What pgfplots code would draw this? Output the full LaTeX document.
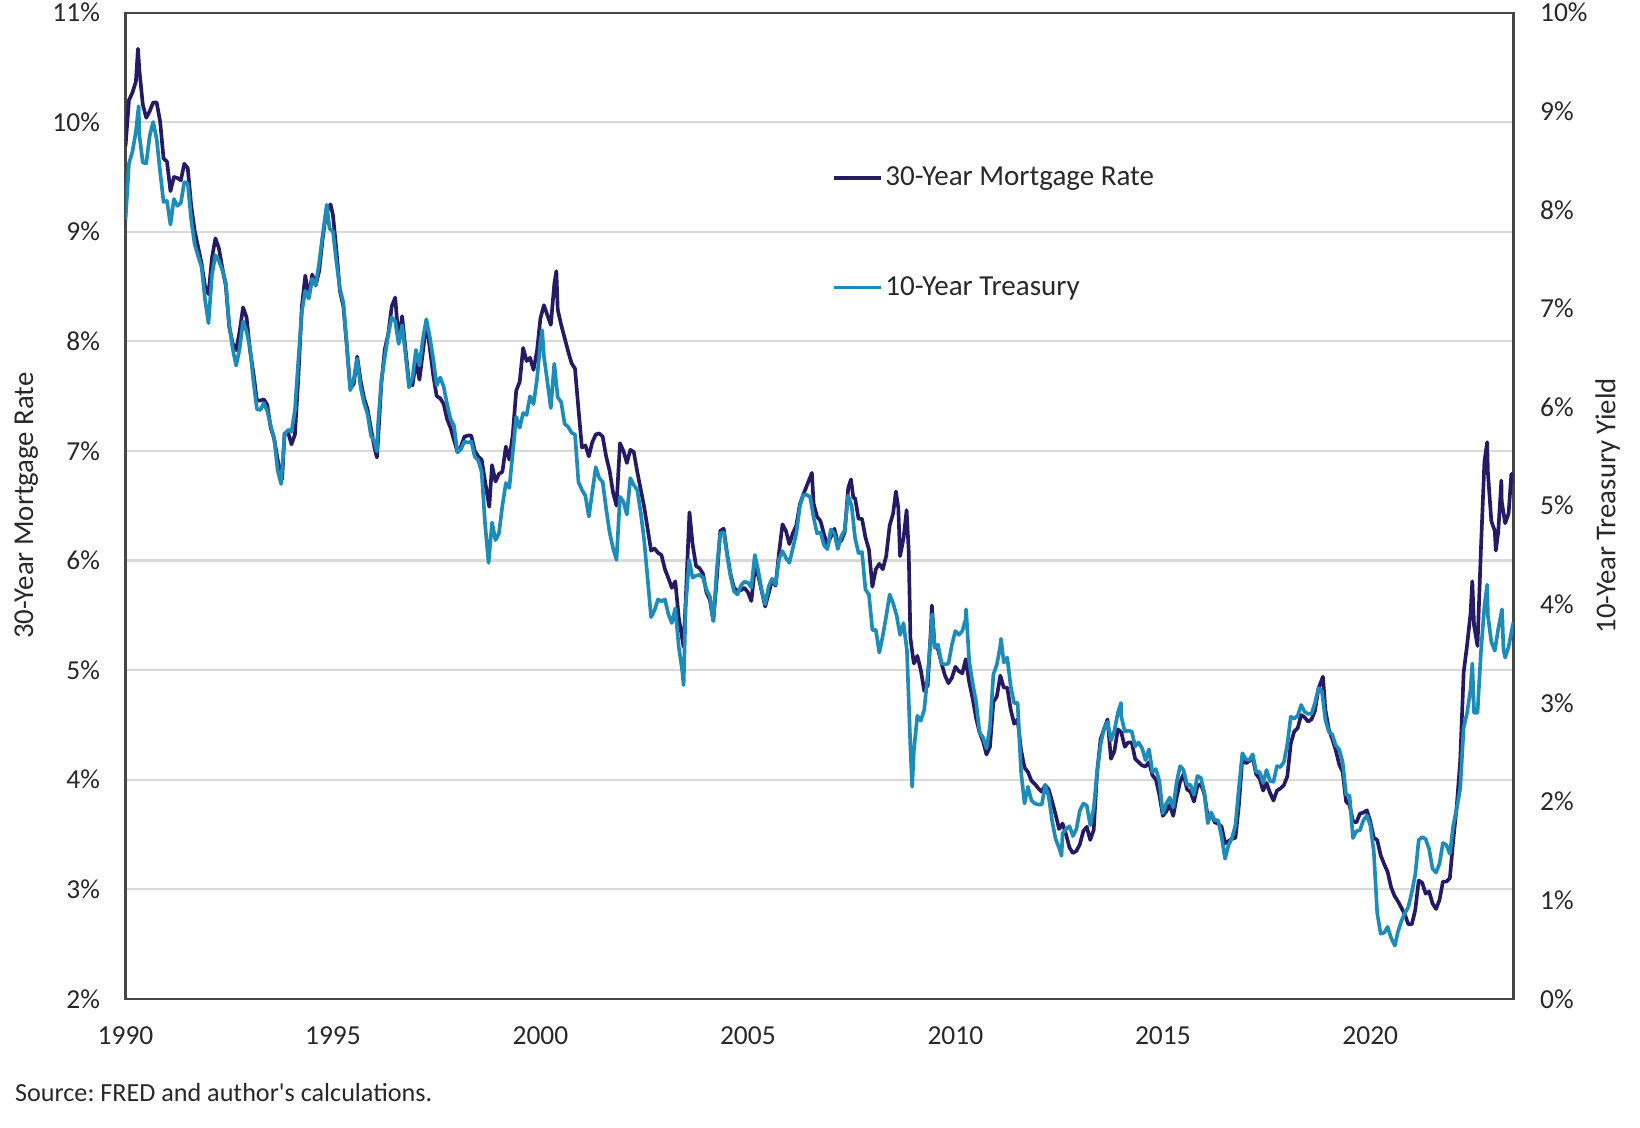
\documentclass[border=0pt]{standalone}
\usepackage{fontspec}
\setmainfont{Carlito}
\newfontfamily\srcfont{Carlito}[Ligatures=TeXOff]
\usepackage{pgfplots}
\pgfplotsset{compat=1.18}
\usepackage{pgfplotstable}
\definecolor{navy}{RGB}{38,26,100}
\definecolor{tealc}{RGB}{30,140,185}
\definecolor{gridc}{RGB}{217,217,217}
\definecolor{axc}{RGB}{70,70,70}
\definecolor{txt}{RGB}{40,40,40}

% 30-year mortgage rate (%), year / month / value
\pgfplotstableread[row sep=\\]{
yr mo v\\
1990 1 9.78\\1990 2 10.20\\1990 3 10.27\\1990 4 10.37\\1990 4.6 10.67\\1990 5 10.48\\1990 6 10.16\\1990 7 10.04\\1990 8 10.10\\1990 9 10.18\\1990 10 10.18\\1990 11 10.01\\1990 12 9.67\\
1991 1 9.64\\1991 2 9.37\\1991 3 9.50\\1991 4 9.49\\1991 5 9.47\\1991 6 9.62\\1991 7 9.58\\1991 8 9.24\\1991 9 9.01\\1991 10 8.86\\1991 11 8.71\\1991 12 8.50\\
1992 1 8.43\\1992 2 8.76\\1992 3 8.94\\1992 4 8.85\\1992 5 8.67\\1992 6 8.51\\1992 7 8.13\\1992 8 7.98\\1992 9 7.92\\1992 10 8.09\\1992 11 8.31\\1992 12 8.22\\
1993 1 7.92\\1993 2 7.71\\1993 3 7.46\\1993 4 7.46\\1993 5 7.47\\1993 6 7.42\\1993 7 7.21\\1993 8 7.11\\1993 9 6.92\\1993 10.3 6.74\\1993 11 7.16\\1993 12 7.17\\
1994 1 7.06\\1994 2 7.15\\1994 3 7.68\\1994 4 8.32\\1994 5 8.60\\1994 6 8.40\\1994 7 8.61\\1994 8 8.51\\1994 9 8.64\\1994 10 8.93\\1994 11 9.17\\1994 12.3 9.25\\
1995 1 9.15\\1995 2 8.83\\1995 3 8.46\\1995 4 8.32\\1995 5 7.96\\1995 6 7.57\\1995 7 7.61\\1995 8 7.86\\1995 9 7.64\\1995 10 7.48\\1995 11 7.38\\1995 12 7.20\\
1996 1 7.03\\1996 1.7 6.94\\1996 2 7.08\\1996 3 7.62\\1996 4 7.93\\1996 5 8.07\\1996 6 8.32\\1996 7 8.40\\1996 8 8.00\\1996 9 8.23\\1996 10 7.92\\1996 11 7.62\\1996 12 7.60\\
1997 1 7.82\\1997 2 7.65\\1997 3 7.90\\1997 4 8.18\\1997 5 7.94\\1997 6 7.69\\1997 7 7.50\\1997 8 7.48\\1997 9 7.43\\1997 10 7.29\\1997 11 7.21\\1997 12 7.10\\
1998 1 6.99\\1998 2 7.04\\1998 3 7.13\\1998 4 7.14\\1998 5 7.14\\1998 6 7.00\\1998 7 6.95\\1998 8 6.92\\1998 9 6.72\\1998 10.2 6.49\\1998 11 6.87\\1998 12 6.72\\
1999 1 6.79\\1999 2 6.81\\1999 3 7.04\\1999 4 6.92\\1999 5 7.15\\1999 6 7.55\\1999 7 7.63\\1999 8 7.94\\1999 9 7.82\\1999 10 7.85\\1999 11 7.74\\1999 12 7.91\\
2000 1 8.21\\2000 2 8.33\\2000 3 8.24\\2000 4 8.15\\2000 5 8.52\\2000 5.6 8.64\\2000 6 8.29\\2000 7 8.15\\2000 8 8.03\\2000 9 7.91\\2000 10 7.80\\2000 11 7.75\\2000 12 7.38\\
2001 1 7.03\\2001 2 7.05\\2001 3 6.95\\2001 4 7.08\\2001 5 7.15\\2001 6 7.16\\2001 7 7.13\\2001 8 6.95\\2001 9 6.82\\2001 10 6.62\\2001 11 6.50\\2001 12 7.07\\
2002 1 7.00\\2002 2 6.89\\2002 3 7.01\\2002 4 6.99\\2002 5 6.81\\2002 6 6.65\\2002 7 6.49\\2002 8 6.29\\2002 9 6.09\\2002 10 6.11\\2002 11 6.07\\2002 12 6.05\\
2003 1 5.92\\2003 2 5.84\\2003 3 5.75\\2003 4 5.81\\2003 5 5.48\\2003 6.4 5.21\\2003 7 5.63\\2003 8.1 6.44\\2003 9 6.15\\2003 10 5.95\\2003 11 5.93\\2003 12 5.88\\
2004 1 5.71\\2004 2 5.64\\2004 3 5.45\\2004 4 5.83\\2004 5 6.27\\2004 6 6.29\\2004 7 6.06\\2004 8 5.87\\2004 9 5.75\\2004 10 5.72\\2004 11 5.73\\2004 12 5.75\\
2005 1 5.71\\2005 2 5.63\\2005 3 5.93\\2005 4 5.86\\2005 5 5.72\\2005 6 5.58\\2005 7 5.70\\2005 8 5.82\\2005 9 5.77\\2005 10 6.07\\2005 11 6.33\\2005 12 6.27\\
2006 1 6.15\\2006 2 6.25\\2006 3 6.32\\2006 4 6.51\\2006 5 6.60\\2006 6 6.68\\2006 7 6.76\\2006 7.5 6.80\\2006 8 6.52\\2006 9 6.40\\2006 10 6.36\\2006 11 6.24\\2006 12 6.14\\
2007 1 6.22\\2007 2 6.29\\2007 3 6.16\\2007 4 6.18\\2007 5 6.26\\2007 6 6.66\\2007 6.8 6.74\\2007 7.5 6.57\\2007 8 6.57\\2007 9 6.38\\2007 10 6.38\\2007 11 6.21\\2007 12 6.10\\
2008 1 5.76\\2008 2 5.92\\2008 3 5.97\\2008 4 5.92\\2008 5 6.04\\2008 6 6.32\\2008 7 6.43\\2008 7.8 6.63\\2008 8.5 6.48\\2008 9 6.04\\2008 10 6.20\\2008 10.9 6.46\\2008 11.5 6.09\\2008 12 5.29\\
2009 1 5.06\\2009 2 5.13\\2009 3 5.00\\2009 4 4.81\\2009 5 4.86\\2009 6 5.42\\2009 6.2 5.59\\2009 7 5.22\\2009 8 5.19\\2009 9 5.06\\2009 10 4.95\\2009 11 4.88\\2009 12 4.93\\
2010 1 5.03\\2010 2 4.99\\2010 3 4.97\\2010 4 5.10\\2010 5 4.89\\2010 6 4.74\\2010 7 4.56\\2010 8 4.43\\2010 9 4.35\\2010 10 4.23\\2010 11 4.30\\2010 12 4.71\\
2011 1 4.76\\2011 2 4.95\\2011 3 4.84\\2011 4 4.84\\2011 5 4.64\\2011 6 4.51\\2011 7 4.55\\2011 8 4.27\\2011 9 4.11\\2011 10 4.07\\2011 11 3.99\\2011 12 3.96\\
2012 1 3.92\\2012 2 3.89\\2012 3 3.95\\2012 4 3.91\\2012 5 3.80\\2012 6 3.68\\2012 7 3.55\\2012 8 3.60\\2012 9 3.50\\2012 10 3.38\\2012 11 3.33\\2012 12 3.35\\
2013 1 3.41\\2013 2 3.53\\2013 3 3.57\\2013 4 3.45\\2013 5 3.54\\2013 6 4.07\\2013 7 4.37\\2013 8 4.46\\2013 9 4.55\\2013 10 4.19\\2013 11 4.26\\2013 12 4.46\\
2014 1 4.43\\2014 2 4.30\\2014 3 4.34\\2014 4 4.34\\2014 5 4.19\\2014 6 4.16\\2014 7 4.13\\2014 8 4.12\\2014 9 4.16\\2014 10 4.04\\2014 11 4.00\\2014 12 3.86\\
2015 1 3.67\\2015 2 3.71\\2015 3 3.77\\2015 4 3.67\\2015 5 3.84\\2015 6 3.98\\2015 7 4.05\\2015 8 3.91\\2015 9 3.89\\2015 10 3.80\\2015 11 3.94\\2015 12 3.96\\
2016 1 3.87\\2016 2 3.66\\2016 3 3.69\\2016 4 3.61\\2016 5 3.60\\2016 6 3.57\\2016 7 3.42\\2016 8 3.44\\2016 9 3.46\\2016 10 3.47\\2016 11 3.77\\2016 12 4.20\\
2017 1 4.15\\2017 2 4.17\\2017 3 4.20\\2017 4 4.05\\2017 5 4.01\\2017 6 3.90\\2017 7 3.97\\2017 8 3.88\\2017 9 3.81\\2017 10 3.90\\2017 11 3.92\\2017 12 3.95\\
2018 1 4.03\\2018 2 4.33\\2018 3 4.44\\2018 4 4.47\\2018 5 4.59\\2018 6 4.57\\2018 7 4.53\\2018 8 4.55\\2018 9 4.63\\2018 10 4.83\\2018 11.3 4.94\\2018 12 4.64\\
2019 1 4.46\\2019 2 4.37\\2019 3 4.27\\2019 4 4.14\\2019 5 4.07\\2019 6 3.80\\2019 7 3.77\\2019 8 3.62\\2019 9 3.61\\2019 10 3.69\\2019 11 3.70\\2019 12 3.72\\
2020 1 3.62\\2020 2 3.47\\2020 3 3.45\\2020 4 3.31\\2020 5 3.23\\2020 6 3.16\\2020 7 3.02\\2020 8 2.94\\2020 9 2.89\\2020 10 2.83\\2020 11 2.77\\2020 12 2.68\\
2021 1 2.68\\2021 2 2.81\\2021 3 3.08\\2021 4 3.06\\2021 5 2.96\\2021 6 2.98\\2021 7 2.87\\2021 8 2.82\\2021 9 2.90\\2021 10 3.07\\2021 11 3.07\\2021 12 3.10\\
2022 1 3.45\\2022 2 3.76\\2022 3 4.17\\2022 4 4.98\\2022 5 5.23\\2022 6 5.52\\2022 6.5 5.81\\2022 7 5.41\\2022 8 5.22\\2022 9 6.11\\2022 10 6.90\\2022 10.8 7.08\\2022 11 6.81\\2022 12 6.36\\
2023 1 6.27\\2023 1.3 6.09\\2023 2 6.26\\2023 2.9 6.73\\2023 3 6.54\\2023 4 6.34\\2023 5 6.43\\2023 5.8 6.79\\2023 6 6.71\\2023 6.4 6.78\\
}\mort

% 10-year Treasury yield (%), year / month / value
\pgfplotstableread[row sep=\\]{
yr mo v\\
1990 1 7.90\\1990 2 8.47\\1990 3 8.59\\1990 4 8.79\\1990 4.8 9.05\\1990 5 8.76\\1990 6 8.48\\1990 7 8.47\\1990 8 8.75\\1990 9 8.89\\1990 10 8.72\\1990 11 8.39\\1990 12 8.08\\
1991 1 8.09\\1991 2 7.85\\1991 3 8.11\\1991 4 8.04\\1991 5 8.07\\1991 6 8.28\\1991 7 8.27\\1991 8 7.90\\1991 9 7.65\\1991 10 7.53\\1991 11 7.42\\1991 12 7.09\\
1992 1 6.85\\1992 2 7.34\\1992 3 7.54\\1992 4 7.48\\1992 5 7.39\\1992 6 7.26\\1992 7 6.84\\1992 8 6.59\\1992 9 6.42\\1992 10 6.59\\1992 11 6.87\\1992 12 6.77\\
1993 1 6.60\\1993 2 6.26\\1993 3 5.98\\1993 4 5.97\\1993 5 6.04\\1993 6 5.96\\1993 7 5.81\\1993 8 5.68\\1993 9 5.36\\1993 10 5.22\\1993 11 5.72\\1993 12 5.77\\
1994 1 5.75\\1994 2 5.97\\1994 3 6.48\\1994 4 6.97\\1994 5 7.18\\1994 6 7.10\\1994 7 7.30\\1994 8 7.24\\1994 9 7.46\\1994 10 7.74\\1994 11.2 8.05\\1994 12 7.81\\
1995 1 7.78\\1995 2 7.47\\1995 3 7.20\\1995 4 7.06\\1995 5 6.63\\1995 6 6.17\\1995 7 6.28\\1995 8 6.49\\1995 9 6.20\\1995 10 6.04\\1995 11 5.93\\1995 12 5.71\\
1996 1 5.65\\1996 1.7 5.55\\1996 2 5.81\\1996 3 6.27\\1996 4 6.51\\1996 5 6.74\\1996 6 6.91\\1996 7 6.87\\1996 8 6.64\\1996 9 6.83\\1996 10 6.53\\1996 11 6.20\\1996 12 6.30\\
1997 1 6.58\\1997 2 6.42\\1997 3 6.69\\1997 4 6.89\\1997 5 6.71\\1997 6 6.49\\1997 7 6.22\\1997 8 6.30\\1997 9 6.21\\1997 10 6.03\\1997 11 5.88\\1997 12 5.81\\
1998 1 5.54\\1998 2 5.57\\1998 3 5.65\\1998 4 5.64\\1998 5 5.65\\1998 6 5.50\\1998 7 5.46\\1998 8 5.34\\1998 9 4.81\\1998 10 4.42\\1998 11 4.83\\1998 12 4.65\\
1999 1 4.72\\1999 2 5.00\\1999 3 5.23\\1999 4 5.18\\1999 5 5.54\\1999 6 5.90\\1999 7 5.79\\1999 8 5.94\\1999 9 5.92\\1999 10 6.11\\1999 11 6.03\\1999 12 6.28\\
2000 1 6.66\\2000 1.5 6.78\\2000 2 6.52\\2000 3 6.26\\2000 4 5.99\\2000 5 6.44\\2000 6 6.10\\2000 7 6.05\\2000 8 5.83\\2000 9 5.80\\2000 10 5.74\\2000 11 5.72\\2000 12 5.24\\
2001 1 5.16\\2001 2 5.10\\2001 3 4.89\\2001 4 5.14\\2001 5 5.39\\2001 6 5.28\\2001 7 5.24\\2001 8 4.97\\2001 9 4.73\\2001 10 4.57\\2001 11 4.45\\2001 12 5.09\\
2002 1 5.04\\2002 2 4.91\\2002 3 5.28\\2002 4 5.21\\2002 5 5.16\\2002 6 4.93\\2002 7 4.65\\2002 8 4.26\\2002 9 3.87\\2002 10 3.94\\2002 11 4.05\\2002 12 4.03\\
2003 1 4.05\\2003 2 3.90\\2003 3 3.81\\2003 4 3.96\\2003 5 3.57\\2003 6 3.33\\2003 6.4 3.18\\2003 7 3.98\\2003 8 4.45\\2003 9 4.27\\2003 10 4.29\\2003 11 4.30\\2003 12 4.27\\
2004 1 4.15\\2004 2 4.08\\2004 3 3.83\\2004 4 4.35\\2004 5 4.72\\2004 6 4.73\\2004 7 4.50\\2004 8 4.28\\2004 9 4.13\\2004 10 4.10\\2004 11 4.19\\2004 12 4.23\\
2005 1 4.22\\2005 2 4.17\\2005 3 4.50\\2005 4 4.34\\2005 5 4.14\\2005 6 4.00\\2005 7 4.18\\2005 8 4.26\\2005 9 4.20\\2005 10 4.46\\2005 11 4.54\\2005 12 4.47\\
2006 1 4.42\\2006 2 4.57\\2006 3 4.72\\2006 4 4.99\\2006 5 5.11\\2006 6 5.11\\2006 7 5.09\\2006 8 4.88\\2006 9 4.72\\2006 10 4.73\\2006 11 4.60\\2006 12 4.56\\
2007 1 4.76\\2007 2 4.72\\2007 3 4.56\\2007 4 4.69\\2007 5 4.75\\2007 6 5.10\\2007 7 5.00\\2007 8 4.67\\2007 9 4.52\\2007 10 4.53\\2007 11 4.15\\2007 12 4.10\\
2008 1 3.74\\2008 2 3.74\\2008 3 3.51\\2008 4 3.68\\2008 5 3.88\\2008 6 4.10\\2008 7 4.01\\2008 8 3.89\\2008 9 3.69\\2008 10 3.81\\2008 11 3.53\\2008 12 2.55\\2008 12.5 2.15\\
2009 1 2.52\\2009 2 2.87\\2009 3 2.82\\2009 4 2.93\\2009 5 3.29\\2009 6 3.72\\2009 6.3 3.90\\2009 7 3.56\\2009 8 3.59\\2009 9 3.40\\2009 10 3.39\\2009 11 3.40\\2009 12 3.59\\
2010 1 3.73\\2010 2 3.69\\2010 3 3.73\\2010 4 3.85\\2010 4.1 3.95\\2010 5 3.42\\2010 6 3.20\\2010 7 3.01\\2010 8 2.70\\2010 9 2.65\\2010 10 2.54\\2010 11 2.76\\2010 12 3.29\\
2011 1 3.39\\2011 2 3.58\\2011 2.2 3.65\\2011 3 3.41\\2011 4 3.46\\2011 5 3.17\\2011 6 3.00\\2011 7 3.00\\2011 8 2.30\\2011 9 1.98\\2011 10 2.15\\2011 11 2.01\\2011 12 1.98\\
2012 1 1.97\\2012 2 1.97\\2012 3 2.17\\2012 4 2.05\\2012 5 1.80\\2012 6 1.62\\2012 7 1.53\\2012 7.7 1.45\\2012 8 1.68\\2012 9 1.72\\2012 10 1.75\\2012 11 1.65\\2012 12 1.72\\
2013 1 1.91\\2013 2 1.98\\2013 3 1.96\\2013 4 1.76\\2013 5 1.93\\2013 6 2.30\\2013 7 2.58\\2013 8 2.74\\2013 9 2.81\\2013 10 2.62\\2013 11 2.72\\2013 12 2.90\\2013 12.9 3.00\\
2014 1 2.86\\2014 2 2.71\\2014 3 2.72\\2014 4 2.71\\2014 5 2.56\\2014 6 2.60\\2014 7 2.54\\2014 8 2.42\\2014 9 2.53\\2014 10 2.30\\2014 11 2.33\\2014 12 2.21\\
2015 1 1.88\\2015 2 1.98\\2015 3 2.04\\2015 4 1.94\\2015 5 2.20\\2015 6 2.36\\2015 7 2.32\\2015 8 2.17\\2015 9 2.17\\2015 10 2.07\\2015 11 2.26\\2015 12 2.24\\
2016 1 2.09\\2016 2 1.78\\2016 3 1.89\\2016 4 1.81\\2016 5 1.81\\2016 6 1.64\\2016 7 1.42\\2016 8 1.56\\2016 9 1.63\\2016 10 1.76\\2016 11 2.14\\2016 12 2.49\\
2017 1 2.43\\2017 2 2.42\\2017 3 2.48\\2017 4 2.30\\2017 5 2.30\\2017 6 2.19\\2017 7 2.32\\2017 8 2.21\\2017 9 2.20\\2017 10 2.36\\2017 11 2.35\\2017 12 2.40\\
2018 1 2.58\\2018 2 2.86\\2018 3 2.84\\2018 4 2.87\\2018 5 2.98\\2018 6 2.91\\2018 7 2.89\\2018 8 2.89\\2018 9 3.00\\2018 10 3.15\\2018 11 3.12\\2018 12 2.83\\
2019 1 2.71\\2019 2 2.68\\2019 3 2.57\\2019 4 2.53\\2019 5 2.40\\2019 6 2.07\\2019 7 2.06\\2019 8 1.63\\2019 9 1.70\\2019 10 1.71\\2019 11 1.81\\2019 12 1.86\\
2020 1 1.76\\2020 2 1.50\\2020 3 0.87\\2020 4 0.66\\2020 5 0.67\\2020 6 0.73\\2020 7 0.62\\2020 8.1 0.54\\2020 9 0.68\\2020 10 0.79\\2020 11 0.87\\2020 12 0.93\\
2021 1 1.08\\2021 2 1.26\\2021 3 1.61\\2021 4 1.64\\2021 5 1.62\\2021 6 1.52\\2021 7 1.32\\2021 8 1.28\\2021 9 1.37\\2021 10 1.58\\2021 11 1.56\\2021 12 1.47\\
2022 1 1.76\\2022 2 1.93\\2022 3 2.13\\2022 4 2.75\\2022 5 2.90\\2022 6 3.14\\2022 6.5 3.40\\2022 7 2.90\\2022 8 2.90\\2022 9 3.52\\2022 10 3.98\\2022 10.8 4.20\\2022 11 3.89\\2022 12 3.62\\
2023 1 3.53\\2023 2 3.75\\2023 3.1 3.95\\2023 3.5 3.55\\2023 4 3.46\\2023 5 3.57\\2023 6 3.75\\2023 6.4 3.82\\
}\tsy

\begin{document}
\frenchspacing
\begin{tikzpicture}
\useasboundingbox (0,0) rectangle (627.2pt,431.2pt);
\begin{axis}[
  at={(48pt,49.2pt)}, anchor=south west,
  scale only axis, width=530.8pt, height=377.2pt,
  xmin=1990, xmax=2023.45, ymin=2, ymax=11,
  xtick={1990,1995,2000,2005,2010,2015,2020},
  xticklabels={1990,1995,2000,2005,2010,2015,2020},
  ytick={2,3,4,5,6,7,8,9,10,11},
  yticklabels={2\%,3\%,4\%,5\%,6\%,7\%,8\%,9\%,10\%,11\%},
  ymajorgrids, grid style={gridc, line width=0.8pt},
  axis line style={axc, line width=0.8pt},
  major tick length=0pt,
  tick label style={font=\fontsize{10.5}{12}\selectfont, text=txt},
  yticklabel style={inner sep=0pt, anchor=east, xshift=-9.6pt},
  xticklabel style={inner sep=0pt, anchor=north, yshift=-10.5pt},
  ylabel={30-Year Mortgage Rate},
  ylabel style={at={(rel axis cs:0,0.5)}, anchor=center, yshift=38pt,
    font=\fontsize{11}{13}\selectfont, text=txt, inner sep=0pt},
  legend style={at={(0.5087,0.847)}, anchor=north west, draw=none, fill=none,
    inner sep=0pt, row sep=31.2pt, font=\fontsize{11.1}{13}\selectfont, text=txt,
    nodes={inner sep=1pt}},
  legend cell align=left,
  legend image code/.code={\draw[#1] (0pt,0pt) -- (18pt,0pt);},
]
\addplot[navy, line width=1.4pt, line join=round]
  table[x expr=\thisrow{yr}+(\thisrow{mo}-1)/12, y=v] {\mort};
\addlegendentry{30-Year Mortgage Rate}
\addlegendimage{tealc, line width=1.4pt}
\addlegendentry{10-Year Treasury}
\end{axis}
\begin{axis}[
  at={(48pt,49.2pt)}, anchor=south west,
  scale only axis, width=530.8pt, height=377.2pt,
  xmin=1990, xmax=2023.45, ymin=0, ymax=10,
  axis x line=none, axis y line*=right,
  axis line style={draw=none},
  ytick={0,1,2,3,4,5,6,7,8,9,10},
  yticklabels={0\%,1\%,2\%,3\%,4\%,5\%,6\%,7\%,8\%,9\%,10\%},
  major tick length=0pt,
  tick label style={font=\fontsize{10.5}{12}\selectfont, text=txt},
  yticklabel style={inner sep=0pt, anchor=west, xshift=10pt},
  ylabel={10-Year Treasury Yield},
  ylabel style={at={(rel axis cs:1,0.5)}, anchor=center, yshift=-36pt,
    font=\fontsize{11}{13}\selectfont, text=txt, inner sep=0pt},
]
\addplot[tealc, line width=1.4pt, line join=round]
  table[x expr=\thisrow{yr}+(\thisrow{mo}-1)/12, y=v] {\tsy};
\end{axis}
\node[anchor=west, inner sep=0pt, font=\srcfont\fontsize{10}{12}\selectfont, text=txt]
  at (5.6pt,13.2pt) {Source: FRED and author's calculations.};
\end{tikzpicture}
\end{document}
